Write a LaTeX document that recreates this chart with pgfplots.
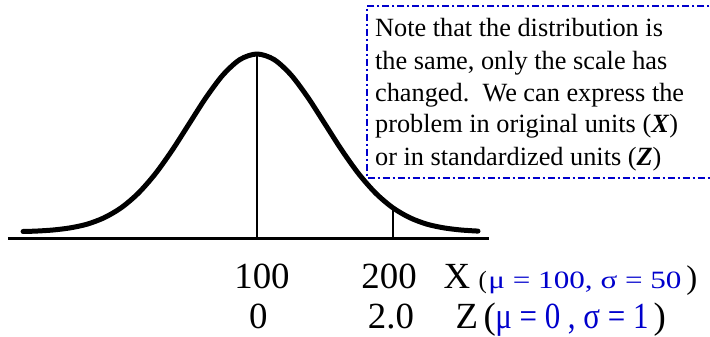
\documentclass[border=0pt]{standalone}
\usepackage{pgfplots}
\pgfplotsset{compat=1.18}
\usepackage{graphicx}
\usepackage{fontspec}
\setmainfont{Liberation Serif}
\definecolor{noteblue}{RGB}{0,0,204}

\begin{document}
\begin{tikzpicture}
\useasboundingbox (0,0) rectangle (710bp,337bp);
\clip (0,0) rectangle (710bp,337bp);
\begin{axis}[
  at={(0,0)}, anchor=south west,
  scale only axis, width=710bp, height=337bp,
  xmin=-88.97, xmax=433.09, ymin=-98, ymax=239,
  hide axis, clip=false,
  every node/.style={inner sep=0pt, outer sep=0pt},
]
% horizontal base line
\addplot[black, line width=3bp] coordinates {(-83.1,0) (270.6,0)};
% drop lines at the mean and at X = 200
\addplot[black, line width=1.3bp] coordinates {(100,0) (100,185)};
\addplot[black, line width=2bp] coordinates {(200,0) (200,31.1)};
% normal curve, mu = 100, sigma = 50
\addplot[black, line width=5bp, smooth, line cap=round, line join=round] coordinates {
  (-72,7.5) (-62.5,7.9) (-50,9.0) (-37.5,11.1) (-25,14.8) (-12.5,21.2)
  (0,31.1) (12.5,45.5) (25,64.8) (37.5,88.5) (50,115.0) (62.5,141.4)
  (75,164.1) (87.5,179.5) (100,185) (112.5,179.5) (125,164.1) (137.5,141.4)
  (150,115.0) (162.5,88.5) (175,64.8) (187.5,45.5) (200,31.1) (212.5,21.2)
  (225,14.8) (237.5,11.1) (250,9.0) (262.5,7.9)
};

% note box (open on the right)
\draw[noteblue, line width=1.2bp, dash pattern=on 7bp off 3bp on 2bp off 3bp]
  (axis cs:440,233) -- (axis cs:180.9,233) -- (axis cs:180.9,61) -- (axis cs:440,61);
\begin{scope}[every node/.append style={anchor=base west, font=\fontsize{26.4}{32}\selectfont}]
\node at (axis cs:184.3,202) {Note that the distribution is};
\node at (axis cs:184.3,169) {the same, only the scale has};
\node at (axis cs:184.3,137) {changed.\ \ We can express the};
\node at (axis cs:184.3,106) {problem in original units (\textbf{\textit{X}})};
\node at (axis cs:184.3,73) {or in standardized units (\textbf{\textit{Z}})};
\end{scope}

% scale labels: X row and Z row
\begin{scope}[every node/.append style={font=\fontsize{37}{44}\selectfont}]
\node[anchor=base] at (axis cs:103.7,-50) {100};
\node[anchor=base] at (axis cs:197.1,-50) {200};
\node[anchor=base west] at (axis cs:234.6,-50) {X};
\node[anchor=base] at (axis cs:101.0,-90) {0};
\node[anchor=base] at (axis cs:198.5,-90) {2.0};
\node[anchor=base west] at (axis cs:243.4,-90) {Z};
\end{scope}
\node[anchor=base west, font=\fontsize{25}{30}\selectfont] at (axis cs:260.3,-50) {(};
\node[anchor=base west, font=\fontsize{25}{30}\selectfont, text=noteblue] at (axis cs:267.6,-50)
  {\scalebox{1.25}[1]{μ = 100, σ = 50}};
\node[anchor=base west, font=\fontsize{33}{40}\selectfont] at (axis cs:413.2,-50) {)};
\node[anchor=base west, font=\fontsize{37}{44}\selectfont] at (axis cs:264.0,-90) {(};
\node[anchor=base west, font=\fontsize{37}{44}\selectfont, text=noteblue] at (axis cs:272.6,-90)
  {\scalebox{0.84}[1]{μ = 0 , σ = 1}};
\node[anchor=base west, font=\fontsize{37}{44}\selectfont] at (axis cs:389.0,-90) {)};
\end{axis}
\end{tikzpicture}
\end{document}
